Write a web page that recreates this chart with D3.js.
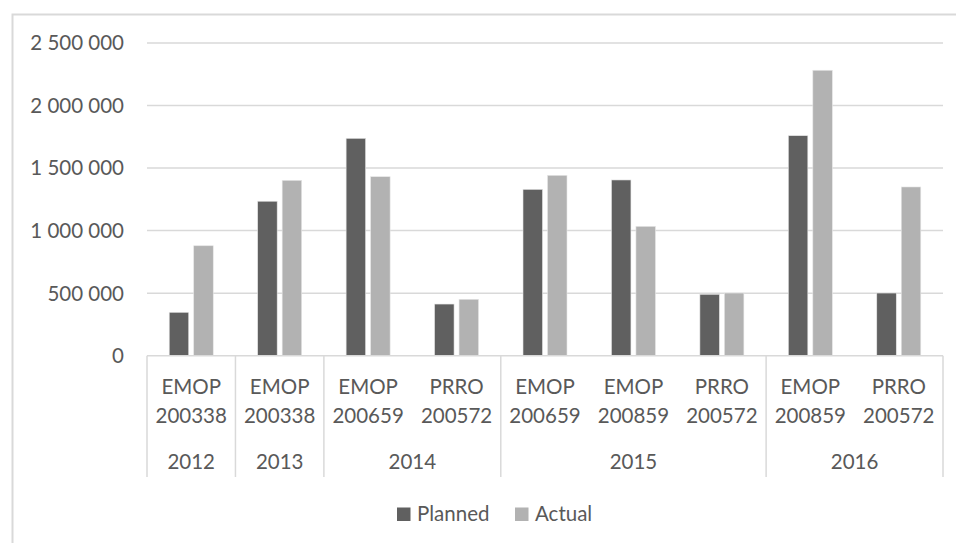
<!DOCTYPE html>
<html>
<head>
<meta charset="utf-8">
<script src="https://cdn.jsdelivr.net/npm/d3@7"></script>
<style>
  html, body { margin: 0; padding: 0; background: #ffffff; }
  svg { display: block; font-family: Lato, "Open Sans", sans-serif; }
</style>
</head>
<body>
<svg id="chart" width="956" height="543"></svg>
<script>
// Programme lines (two-row labels) and the year each belongs to
const programmes = ["EMOP|200338", "EMOP|200338", "EMOP|200659", "PRRO|200572",
                    "EMOP|200659", "EMOP|200859", "PRRO|200572", "EMOP|200859", "PRRO|200572"];
const years = ["2012", "2013", "2014", "2014", "2015", "2015", "2015", "2016", "2016"];
const series = ["Planned", "Actual"];
const planned = [347000, 1235000, 1738000, 413000, 1330000, 1405000, 491000, 1759000, 501000];
const actual  = [879000, 1402000, 1431000, 451000, 1442000, 1034000, 501000, 2282000, 1349000];
const yTicks = [0, 500000, 1000000, 1500000, 2000000, 2500000];

const colors = { Planned: "#606060", Actual: "#b2b2b2" };
const textColor = "#595959";
const lineColor = "#d9d9d9";

const svg = d3.select("#chart");
const plotLeft = 147, plotRight = 943, plotTop = 43, plotBottom = 355.7;

// outer chart frame
svg.append("rect")
  .attr("x", 12.5).attr("y", 14.5).attr("width", 960).attr("height", 560)
  .attr("fill", "none").attr("stroke", lineColor).attr("stroke-width", 2);

const idx = programmes.map((_, i) => i);
const x = d3.scaleBand().domain(idx).range([plotLeft, plotRight]).padding(0);
const xs = d3.scaleBand().domain(series).range([0, x.bandwidth()])
  .paddingInner(0.204).paddingOuter(0.907);
const y = d3.scaleLinear().domain([0, 2500000]).range([plotBottom, plotTop]);

const fmt = v => d3.format(",")(v).replace(/,/g, " ");

// gridlines
svg.append("g").selectAll("line").data(yTicks.filter(d => d > 0)).join("line")
  .attr("x1", plotLeft).attr("x2", plotRight)
  .attr("y1", d => y(d)).attr("y2", d => y(d))
  .attr("stroke", lineColor).attr("stroke-width", 1.5);

// y tick labels
svg.append("g").selectAll("text").data(yTicks).join("text")
  .attr("x", 124).attr("y", d => y(d))
  .attr("dy", "0.36em")
  .attr("text-anchor", "end")
  .attr("fill", textColor).attr("font-size", 20.5)
  .text(fmt);

// bars
const rows = idx.map(i => ({ i, Planned: planned[i], Actual: actual[i] }));
const groups = svg.append("g").selectAll("g").data(rows).join("g")
  .attr("transform", d => `translate(${x(d.i)},0)`);
groups.selectAll("rect").data(d => series.map(s => ({ s, v: d[s] }))).join("rect")
  .attr("x", d => xs(d.s))
  .attr("width", xs.bandwidth())
  .attr("y", d => y(d.v))
  .attr("height", d => y(0) - y(d.v))
  .attr("fill", d => colors[d.s])
  .attr("stroke", "#e6e6e6").attr("stroke-width", 0.6);

// category axis line
svg.append("line")
  .attr("x1", plotLeft).attr("x2", plotRight).attr("y1", plotBottom).attr("y2", plotBottom)
  .attr("stroke", lineColor).attr("stroke-width", 1.5);

// year group boundaries
const boundaries = [0];
years.forEach((yr, i) => { if (i > 0 && yr !== years[i - 1]) boundaries.push(i); });
boundaries.push(years.length);
const edgeX = i => (i < years.length ? x(i) : plotRight);
svg.append("g").selectAll("line").data(boundaries).join("line")
  .attr("x1", edgeX).attr("x2", edgeX)
  .attr("y1", plotBottom).attr("y2", 477)
  .attr("stroke", lineColor).attr("stroke-width", 1.5);

// programme labels
const lab = svg.append("g").attr("fill", textColor).attr("font-size", 20.5).attr("text-anchor", "middle");
idx.forEach(i => {
  const [a, b] = programmes[i].split("|");
  const cx = x(i) + x.bandwidth() / 2;
  lab.append("text").attr("x", cx).attr("y", 394.3).text(a);
  lab.append("text").attr("x", cx).attr("y", 422.7).text(b);
});

// year labels centred on their span
for (let k = 0; k < boundaries.length - 1; k++) {
  const a = boundaries[k], b = boundaries[k + 1];
  lab.append("text")
    .attr("x", (edgeX(a) + edgeX(b)) / 2)
    .attr("y", 469.3)
    .text(years[a]);
}

// legend
const legend = svg.append("g").attr("font-size", 20.5).attr("fill", textColor);
const legendX = { Planned: 397, Actual: 515 };
series.forEach(s => {
  legend.append("rect").attr("x", legendX[s]).attr("y", 507.5)
    .attr("width", 13.5).attr("height", 13.5).attr("fill", colors[s]);
  legend.append("text").attr("x", legendX[s] + 20).attr("y", 521).text(s);
});
</script>
</body>
</html>
